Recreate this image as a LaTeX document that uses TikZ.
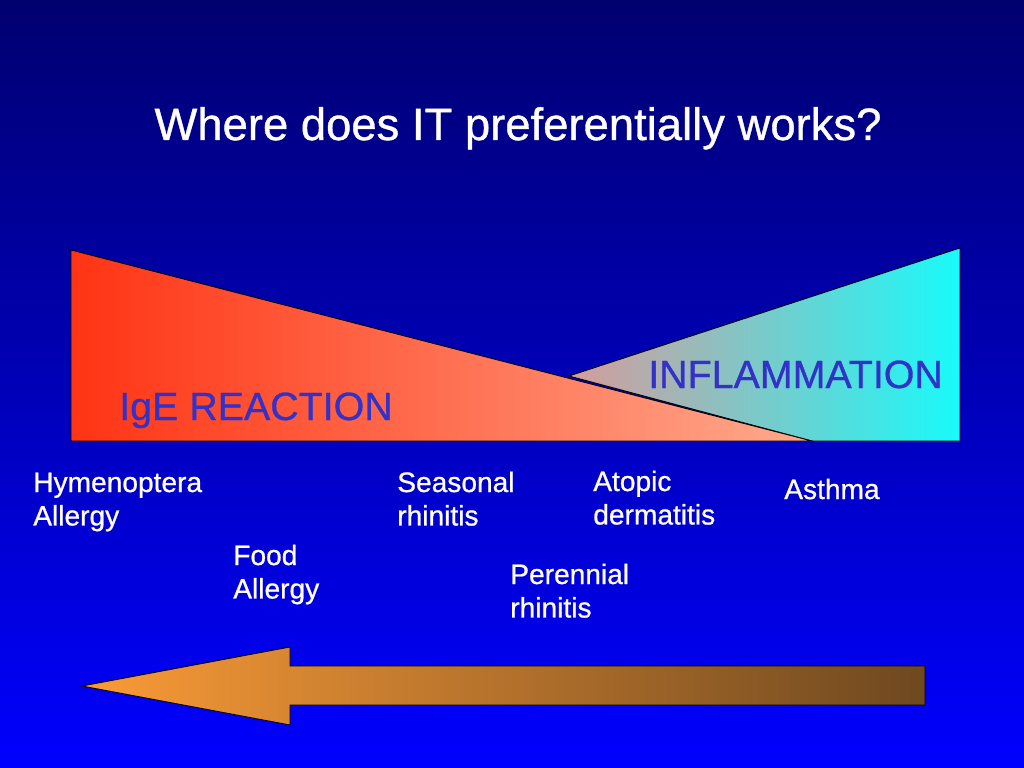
\documentclass[tikz,border=0pt]{standalone}
\usepackage{fontspec}
\setmainfont{Liberation Sans}[BoldFont={Liberation Sans}, BoldFeatures={FakeBold=0.8}]
\definecolor{bgtop}{RGB}{0,0,112}
\definecolor{bgmid}{RGB}{0,0,200}
\definecolor{bgbot}{RGB}{0,0,255}
\definecolor{igeleft}{RGB}{255,52,20}
\definecolor{igeright}{RGB}{255,170,142}
\definecolor{infleft}{RGB}{215,155,155}
\definecolor{infmid}{RGB}{110,228,230}
\definecolor{infright}{RGB}{25,250,250}
\definecolor{bigtext}{RGB}{50,50,200}
\definecolor{arrleft}{RGB}{250,155,55}
\definecolor{arrmid}{RGB}{218,134,48}
\definecolor{arrright}{RGB}{110,72,32}
\tikzset{
  outline/.style={draw=black, line width=0.6pt, line join=miter},
  lbl/.style={text=white, anchor=base west, inner sep=0pt,
    font=\fontsize{20}{23.8}\selectfont\bfseries},
  bigword/.style={text=bigtext, anchor=base west, inner sep=0pt,
    font=\fontsize{28}{32}\selectfont\bfseries}
}
\begin{document}
\begin{tikzpicture}[x=0.025cm, y=-0.025cm]
    % background
    \shade[top color=bgtop, middle color=bgmid, bottom color=bgbot] (0,0) rectangle (1024,768);
    \useasboundingbox (0,0) rectangle (1024,768);

    % title
    \node[text=white, anchor=base, inner sep=0pt, font=\fontsize{32.3}{38}\selectfont\bfseries]
        (title) at (518,140) {Where does IT preferentially works?};

    % corner points of the two wedges
    \coordinate (igetop) at (71,250);
    \coordinate (igebot) at (71,441);
    \coordinate (igetip) at (812,441);
    \coordinate (inftop) at (960,248);
    \coordinate (infbot) at (960,441);
    \coordinate (infcut) at (569,376);

    % inflammation wedge (behind)
    \shade[outline, left color=infleft, middle color=infmid, right color=infright]
        (infcut) -- (inftop) -- (infbot) -- (igetip) -- cycle;

    % IgE wedge
    \shade[outline, left color=igeleft, right color=igeright]
        (igetop) -- (igebot) -- (igetip) -- cycle;

    \node[bigword] (ige) at (119,420) {IgE REACTION};
    \node[bigword] (infl) at (648,388) {INFLAMMATION};

    % diseases
    \node[lbl] (hymen) at (33,492) {\begin{tabular}[t]{@{}l@{}}Hymenoptera\\Allergy\end{tabular}};
    \node[lbl] (food) at (233,565) {\begin{tabular}[t]{@{}l@{}}Food\\Allergy\end{tabular}};
    \node[lbl] (season) at (397,492) {\begin{tabular}[t]{@{}l@{}}Seasonal\\rhinitis\end{tabular}};
    \node[lbl] (perenn) at (510,584) {\begin{tabular}[t]{@{}l@{}}Perennial\\rhinitis\end{tabular}};
    \node[lbl] (atopic) at (593,491) {\begin{tabular}[t]{@{}l@{}}Atopic\\dermatitis\end{tabular}};
    \node[lbl] (asthma) at (784,499) {Asthma};

    % big arrow
    \shade[outline, left color=arrleft, middle color=arrmid, right color=arrright]
        (82,686) -- (290,647) -- (290,666) -- (925,666) -- (925,705)
        -- (290,705) -- (290,725) -- cycle;
\end{tikzpicture}
\end{document}
